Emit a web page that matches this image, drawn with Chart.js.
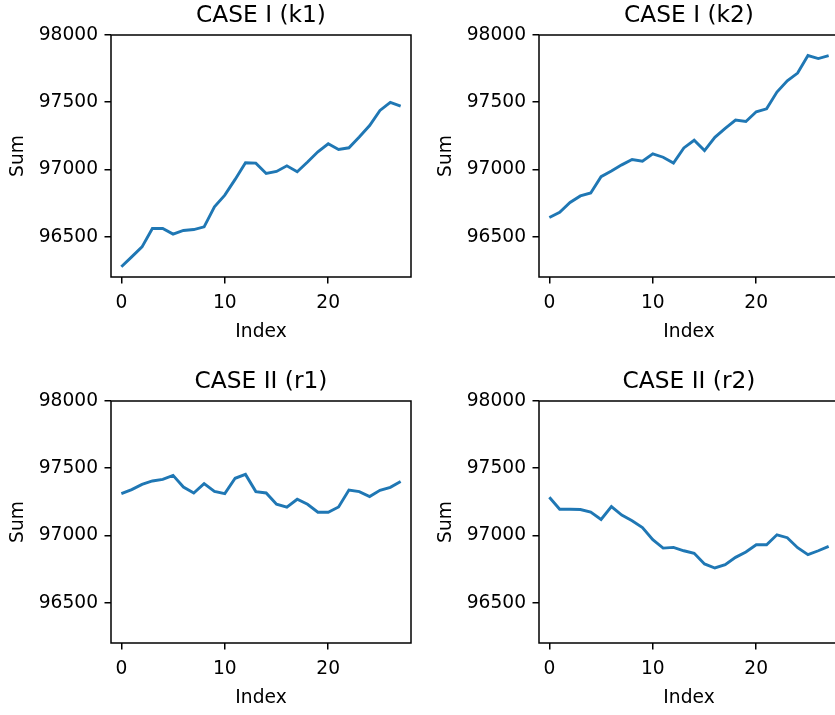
<!DOCTYPE html>
<html>
<head>
<meta charset="utf-8">
<script src="https://cdn.jsdelivr.net/npm/chart.js@4"></script>
<style>
  html, body { margin: 0; padding: 0; background: #fff; }
  body { width: 835px; height: 715px; overflow: hidden; position: relative; }
  .panel { position: absolute; width: 428px; height: 366px; }
</style>
</head>
<body>
<div class="panel" style="left:0;top:0"><canvas id="k1" width="428" height="366"></canvas></div>
<div class="panel" style="left:428px;top:0"><canvas id="k2" width="428" height="366"></canvas></div>
<div class="panel" style="left:0;top:366px"><canvas id="r1" width="428" height="366"></canvas></div>
<div class="panel" style="left:428px;top:366px"><canvas id="r2" width="428" height="366"></canvas></div>
<script>
const indices = [0, 1, 2, 3, 4, 5, 6, 7, 8, 9, 10, 11, 12, 13, 14, 15, 16, 17, 18, 19, 20, 21, 22, 23, 24, 25, 26, 27];

const sumK1 = [96276, 96350, 96424, 96561, 96561, 96519, 96546, 96553, 96573, 96722, 96809, 96926, 97050, 97047,
  96970, 96985, 97027, 96983, 97055, 97131, 97191, 97149, 97161, 97241, 97327, 97439, 97499, 97471];
const sumK2 = [96643, 96682, 96754, 96803, 96825, 96946, 96988, 97034, 97074, 97062, 97116, 97091, 97047, 97160,
  97217, 97140, 97239, 97305, 97367, 97357, 97429, 97451, 97576, 97660, 97717, 97847, 97825, 97847];
const sumR1 = [97311, 97341, 97380, 97405, 97417, 97447, 97360, 97316, 97385, 97328, 97311, 97425, 97454, 97326,
  97316, 97232, 97210, 97269, 97232, 97173, 97173, 97212, 97338, 97326, 97289, 97336, 97358, 97402];
const sumR2 = [97284, 97195, 97195, 97193, 97173, 97119, 97215, 97151, 97109, 97059, 96968, 96906, 96911, 96886,
  96867, 96788, 96758, 96783, 96837, 96877, 96931, 96931, 97005, 96983, 96909, 96857, 96886, 96919];

const xTicks = [0, 10, 20];
const yTicks = [96500, 97000, 97500, 98000];

Chart.defaults.font.family = "'DejaVu Sans', sans-serif";
Chart.defaults.font.size = 18.67;
Chart.defaults.color = "#000";

// cadre noir + titre centré sur la zone du graphique (style matplotlib)
const cadre = {
  id: "cadre",
  afterDraw(chart, args, opts) {
    const { ctx, chartArea: a } = chart;
    ctx.save();
    ctx.strokeStyle = "#000";
    ctx.lineWidth = 1.5;
    ctx.strokeRect(a.left, a.top, a.right - a.left, a.bottom - a.top);
    ctx.fillStyle = "#000";
    ctx.font = "23.3px 'DejaVu Sans', sans-serif";
    ctx.textAlign = "center";
    ctx.textBaseline = "alphabetic";
    ctx.fillText(opts.texto, (a.left + a.right) / 2, a.top - 13.5);
    ctx.restore();
  },
};

function criarGrafico(id, titulo, valores) {
  const ctx = document.getElementById(id).getContext("2d");
  return new Chart(ctx, {
    type: "line",
    data: {
      datasets: [
        {
          data: indices.map((x, i) => ({ x: x, y: valores[i] })),
          borderColor: "#1f77b4",
          borderWidth: 2.9,
          pointRadius: 0,
          tension: 0,
          fill: false,
        },
      ],
    },
    options: {
      responsive: false,
      animation: false,
      devicePixelRatio: 1,
      layout: { padding: { left: 0, top: 35, right: 17, bottom: 0 } },
      plugins: {
        legend: { display: false },
        tooltip: { enabled: false },
        title: { display: false },
        cadre: { texto: titulo },
      },
      scales: {
        x: {
          type: "linear",
          min: -1,
          max: 28,
          afterBuildTicks: (s) => { s.ticks = xTicks.map((v) => ({ value: v })); },
          afterFit: (s) => { s.height = 89; },
          ticks: { padding: 8.3, maxRotation: 0, callback: (v) => String(v) },
          grid: { drawOnChartArea: false, tickLength: 6.5, color: "#000", lineWidth: 1.5 },
          border: { display: false },
          title: { display: true, text: "Index", padding: { top: 0, bottom: 23 } },
        },
        y: {
          min: 96200,
          max: 98000,
          afterBuildTicks: (s) => { s.ticks = yTicks.map((v) => ({ value: v })); },
          afterFit: (s) => { s.width = 111; },
          ticks: { padding: 6.5, callback: (v) => String(v) },
          grid: { drawOnChartArea: false, tickLength: 6.5, color: "#000", lineWidth: 1.5 },
          border: { display: false },
          title: { display: true, text: "Sum", padding: { top: 7, bottom: 0 } },
        },
      },
    },
    plugins: [cadre],
  });
}

criarGrafico("k1", "CASE I (k1)", sumK1);
criarGrafico("k2", "CASE I (k2)", sumK2);
criarGrafico("r1", "CASE II (r1)", sumR1);
criarGrafico("r2", "CASE II (r2)", sumR2);
</script>
</body>
</html>
